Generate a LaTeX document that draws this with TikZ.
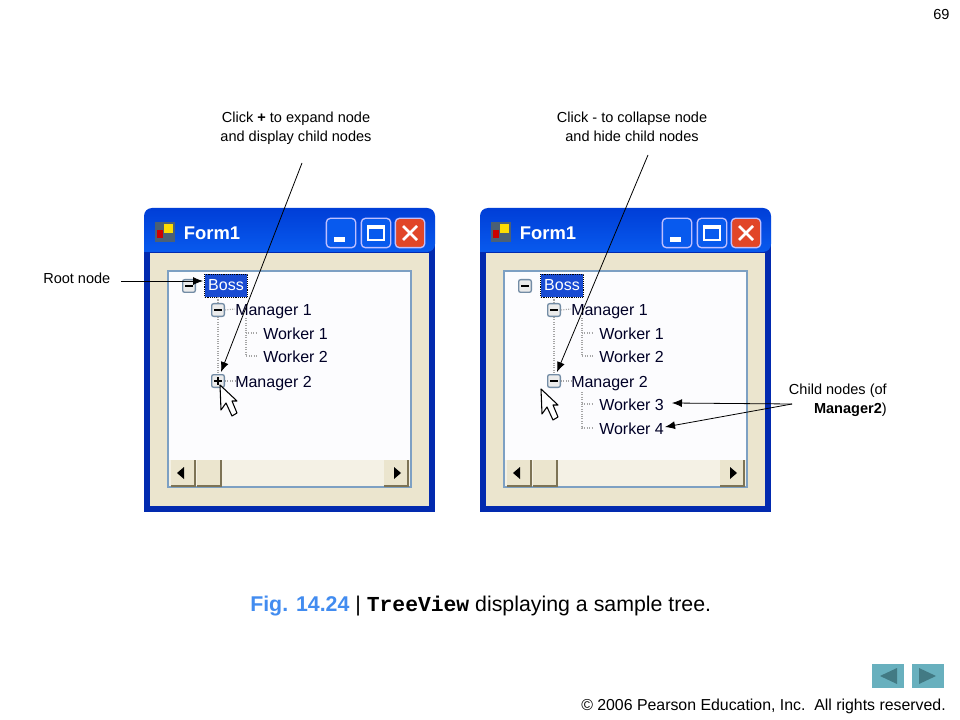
\documentclass[tikz,border=0pt]{standalone}
\usepackage{fontspec}
\setmainfont{Liberation Sans}
\setmonofont{Liberation Mono}
\usetikzlibrary{arrows.meta}
\definecolor{framecol}{RGB}{2,42,175}
\definecolor{titletop}{RGB}{0,62,215}
\definecolor{titlebot}{RGB}{8,90,238}
\definecolor{facecol}{RGB}{235,229,206}
\definecolor{scrollcol}{RGB}{244,241,229}
\definecolor{listcol}{RGB}{252,252,254}
\definecolor{edgecol}{RGB}{125,160,195}
\definecolor{selcol}{RGB}{25,75,210}
\definecolor{figblue}{RGB}{66,140,240}
\definecolor{navcol}{RGB}{104,176,190}
\definecolor{navtip}{RGB}{66,122,132}
\definecolor{closecol}{RGB}{225,70,40}
\definecolor{iconcol}{RGB}{115,140,165}
\definecolor{sbedge}{RGB}{125,115,85}
\tikzset{
  callout/.style={font=\fontsize{10.9}{14}\selectfont, inner sep=0pt},
  treeitem/.style={font=\fontsize{12}{14}\selectfont, text=black!85!blue, inner sep=0pt, text height=12.4pt, text depth=2.8pt, anchor=west},
  expander/.style={draw=iconcol, line width=1pt, rounded corners=1.5pt, fill=black!8, minimum size=9.5pt, inner sep=0pt},
  treeline/.style={draw=black!35, densely dotted, line width=.8pt},
  capbtn/.style={draw=white!75!blue, line width=1pt, rounded corners=3pt, fill=titlebot, minimum size=22pt, inner sep=0pt},
  sbbtn/.style={fill=facecol, minimum width=17.5pt, minimum height=19pt, inner sep=0pt},
  sbline/.style={draw=sbedge, line width=1pt},
  pointer/.style={-{Latex[length=7.5pt,width=6pt]}, line width=.6pt},
  cursorshape/.style={draw=black, fill=white, line width=.8pt, line join=round},
}
% one window, tree down to Manager 2
\newcommand{\formwindow}{
\fill[framecol] (144,230) rectangle (435,512);
\shade[top color=titletop, bottom color=titlebot, rounded corners=6pt] (144,252) -- (144,208) -- (435,208) -- (435,252) [sharp corners] -- cycle;
\fill[facecol] (150,253) rectangle (429,506);
\fill[black!40!edgecol] (155,222) rectangle (175,242);
\fill[red!80!black] (157,230) rectangle (163,238);
\fill[yellow!80!orange] (164,224) rectangle (173,233);
\node[font=\bfseries\fontsize{13.8}{14}\selectfont, text=white, inner sep=0pt] (title) at (212,233) {Form1};
\node[capbtn] (minbtn) at (341,233) {};
\node[capbtn] (maxbtn) at (376,233) {};
\node[capbtn, fill=closecol] (closebtn) at (410,233) {};
\fill[white] (334,237) rectangle (345,242);
\draw[white, line width=1.2pt] (368,226) rectangle (384,240);
\fill[white] (368,226) rectangle (384,229);
\draw[white, line width=2pt] (403,226) -- (417,240) (417,226) -- (403,240);
\draw[fill=listcol, draw=edgecol, line width=.8pt] (168,271) rectangle (411,487);
\fill[scrollcol] (169,460) rectangle (410,486);
\node[sbbtn] (leftbtn) at (183,473) {};
\node[sbbtn] (thumb) at (209,473) {};
\node[sbbtn] (rightbtn) at (396,473) {};
\draw[sbline] (leftbtn.north east) |- (leftbtn.south west);
\draw[sbline] (thumb.north east) |- (thumb.south west);
\draw[sbline] (rightbtn.north east) |- (rightbtn.south west);
\fill[black] (177,473) -- (184,467) -- (184,479) -- cycle;
\fill[black] (401,473) -- (394,467) -- (394,479) -- cycle;
\node[expander] (bossbox) at (189,286) {};
\node[expander] (mgr1box) at (218,310) {};
\node[expander] (mgr2box) at (218,381) {};
\draw[line width=1.2pt] (185,286) -- (193,286) (214,310) -- (222,310);
\node[font=\fontsize{12}{14}\selectfont, text=white, fill=selcol, draw=black, densely dotted, minimum width=32pt, minimum height=17pt, inner sep=0pt] (boss) at (226,285.5) {Boss};
\node[treeitem] (mgr1) at (235,309) {Manager 1};
\node[treeitem] (wrk1) at (263,333) {Worker 1};
\node[treeitem] (wrk2) at (263,356) {Worker 2};
\node[treeitem] (mgr2) at (235,381) {Manager 2};
\coordinate (stem1) at (246,318);
\draw[treeline] (mgr1box |- boss.south) -- (mgr1box.north);
\draw[treeline] (mgr1box.south) -- (mgr2box.north);
\draw[treeline] (mgr1box.east) -- (mgr1.west);
\draw[treeline] (mgr2box.east) -- (mgr2.west);
\draw[treeline, shorten >=4pt] (stem1) |- (wrk2.west);
\draw[treeline, shorten >=4pt] (stem1 |- wrk1.west) -- (wrk1.west);
}
\begin{document}
\begin{tikzpicture}[x=.75pt,y=-.75pt]
\useasboundingbox (0,0) rectangle (960,720);
\fill[white] (0,0) rectangle (960,720);
\begin{scope}[name prefix=l-]
\formwindow
\draw[line width=1.2pt] (214,381) -- (222,381) (218,377) -- (218,385);
\draw[cursorshape] (220,385) -- (221,410) -- (226,403) -- (232,416) -- (237,413) -- (232,401) -- (237,401) -- cycle;
\end{scope}
\begin{scope}[xshift=252pt, name prefix=r-]
\formwindow
\draw[line width=1.2pt] (214,381) -- (222,381);
\node[treeitem] (wrk3) at (263,404) {Worker 3};
\node[treeitem] (wrk4) at (263,428) {Worker 4};
\coordinate (stem2) at (246,392);
\draw[treeline, shorten >=4pt] (stem2) |- (wrk4.west);
\draw[treeline, shorten >=4pt] (stem2 |- wrk3.west) -- (wrk3.west);
\draw[cursorshape] (205,389) -- (206,414) -- (211,407) -- (217,420) -- (222,417) -- (217,405) -- (222,405) -- cycle;
\end{scope}
\node[callout, anchor=west] (pagenum) at (933,15) {69};
\node[callout, align=center] (expandtxt) at (296,128.5) {Click \textbf{+} to expand node\\and display child nodes};
\node[callout, align=center] (collapsetxt) at (632,127) {Click - to collapse node\\and hide child nodes};
\node[callout, anchor=west] (roottxt) at (43,278) {Root node};
\node[callout, align=right, anchor=east] (childtxt) at (887,400.5) {Child nodes (of\\\textbf{Manager2})};
\coordinate (rootfrom) at (121,281);
\coordinate (rootto) at (203,281);
\coordinate (expfrom) at (302,163);
\coordinate (expto) at (221,372);
\coordinate (colfrom) at (648,155);
\coordinate (colto) at (557,372);
\coordinate (childfrom) at (792,404);
\coordinate (w3to) at (672,403);
\coordinate (w4to) at (665,427);
\draw[pointer] (rootfrom) -- (rootto);
\draw[pointer] (expfrom) -- (expto);
\draw[pointer] (colfrom) -- (colto);
\draw[pointer] (childfrom) -- (w3to);
\draw[pointer] (childfrom) -- (w4to);
\node[font=\fontsize{16}{18}\selectfont, anchor=west, inner sep=0pt] (caption) at (250,606) {\textcolor{figblue}{\textbf{Fig. 14.24}} | \textbf{\ttfamily TreeView} displaying a sample tree.};
\node[fill=navcol, minimum width=24pt, minimum height=18pt, inner sep=0pt] (prevbtn) at (888,676) {};
\node[fill=navcol, minimum width=24pt, minimum height=18pt, inner sep=0pt] (nextbtn) at (928,676) {};
\fill[navtip] (880,676) -- (897,668) -- (897,684) -- cycle;
\fill[navtip] (936,676) -- (919,668) -- (919,684) -- cycle;
\node[font=\fontsize{11.9}{14}\selectfont, anchor=east, inner sep=0pt] (copyright) at (946,706) {© 2006 Pearson Education, Inc.\ \ All rights reserved.};
\end{tikzpicture}
\end{document}
